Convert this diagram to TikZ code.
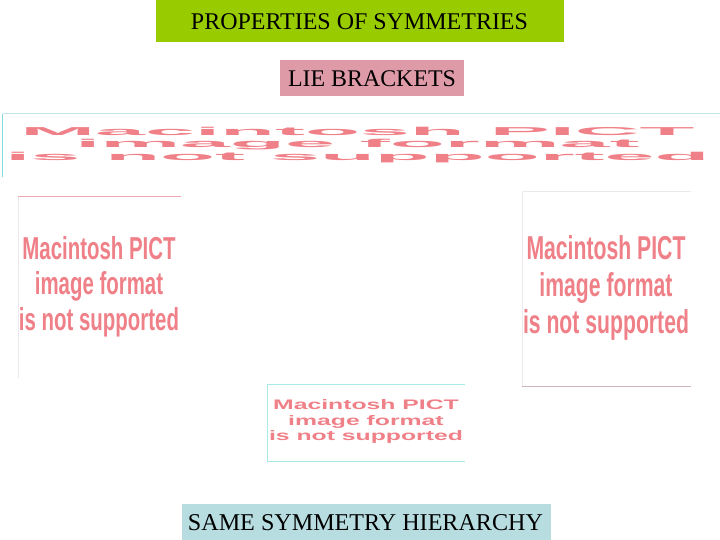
\documentclass[tikz,border=0pt]{standalone}
\usepackage{graphicx}
\usepackage{fontspec}
\setmainfont{Liberation Serif}
\newfontfamily\pictfont{Liberation Sans}[Scale=1.0]
\definecolor{titlegreen}{HTML}{99CC00}
\definecolor{liepink}{HTML}{DF9AA8}
\definecolor{hierblue}{HTML}{B8DDE1}
\definecolor{picttext}{HTML}{F08088}
\definecolor{edgeblue}{HTML}{BFE6EC}
\definecolor{edgecyan}{HTML}{7FDDE6}
\definecolor{edgepink}{HTML}{F0A8B4}
\definecolor{edgefaint}{HTML}{ECE8EC}
\definecolor{edgemauve}{HTML}{D0B4BC}
\definecolor{edgeaqua}{HTML}{A8EAE6}
\def\pictlabel{\vbox{\baselineskip=1.12em\lineskiplimit=-5pt\pictfont\bfseries\halign{\hfil##\hfil\cr Macintosh PICT\cr image format\cr is not supported\cr}}}
\tikzset{
  x=1pt,y=-1pt,
  band/.style={inner sep=0pt,outer sep=0pt,text=black,font=\fontsize{22}{24}\selectfont},
  pict/.style={inner sep=0pt,outer sep=0pt,text=picttext},
  rim/.style={line width=1pt}
}
\begin{document}
\begin{tikzpicture}
\useasboundingbox (0,0) rectangle (720,540);
\fill[white] (0,0) rectangle (720,540);
% coloured bands
\fill[titlegreen] (156,0) rectangle (564,42);
\node[band] (title) at (359.5,22) {\resizebox{337pt}{!}{PROPERTIES OF SYMMETRIES}};
\fill[liepink] (280,60) rectangle (464,96);
\node[band] (lie) at (372,79) {\resizebox{168pt}{!}{LIE BRACKETS}};
\fill[hierblue] (182,504) rectangle (551,540);
\node[band] (hier) at (365.5,523) {\resizebox{355pt}{!}{SAME SYMMETRY HIERARCHY}};
% placeholder images
\draw[rim,edgeblue] (720,114) -- (2.5,114);
\draw[rim,edgecyan,line width=1.3pt] (2.5,114) -- (2.5,177);
\node[pict] (wide) at (357.5,145) {\resizebox{704pt}{34pt}{\pictlabel}};
\draw[rim,edgepink] (18,197) -- (181,197);
\draw[rim,edgefaint] (18.5,197) -- (18.5,378);
\node[pict] (left) at (99,286.5) {\resizebox{160pt}{94pt}{\pictlabel}};
\draw[rim,edgefaint] (522.5,192) -- (691,192);
\draw[rim,edgefaint] (522.5,192) -- (522.5,386);
\draw[rim,edgemauve] (522,386.5) -- (691,386.5);
\node[pict] (right) at (606,288) {\resizebox{166pt}{98pt}{\pictlabel}};
\draw[rim,edgeaqua] (465,384.5) -- (267.5,384.5) -- (267.5,461) -- (465,461);
\node[pict] (small) at (366,421.5) {\resizebox{194pt}{41pt}{\pictlabel}};
\end{tikzpicture}
\end{document}
